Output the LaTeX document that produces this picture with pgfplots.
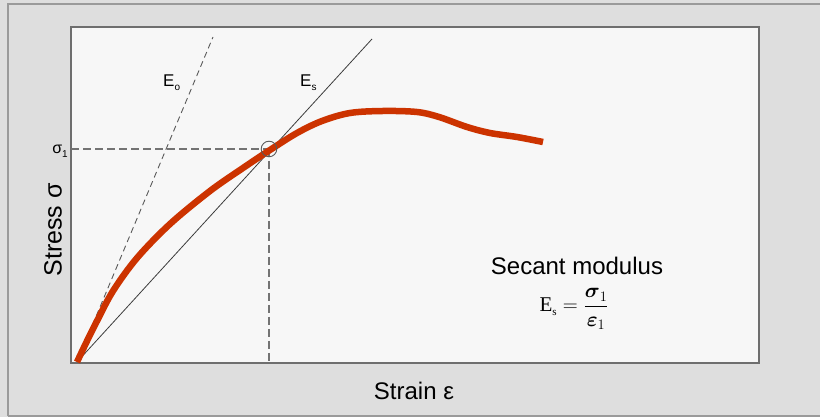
\documentclass[border=0pt]{standalone}
\usepackage{amsmath}
\usepackage[no-math]{fontspec}
\setmainfont{Liberation Sans}
\newfontfamily\timesf{Liberation Serif}
\usepackage{pgfplots}
\pgfplotsset{compat=1.18}
\definecolor{outerbg}{HTML}{DEDEDE}
\definecolor{innerbg}{HTML}{F7F7F7}
\definecolor{boxline}{HTML}{6E6E6E}
\definecolor{frameline}{HTML}{9A9A9A}
\definecolor{curvered}{HTML}{CC3300}
\definecolor{dashgray}{HTML}{5A5A5A}
\definecolor{secgray}{HTML}{3C3C3C}
\begin{document}
\begin{tikzpicture}[x=1pt,y=1pt]
\useasboundingbox (0,0) rectangle (820,417);
\fill[outerbg] (0,0) rectangle (820,417);
\draw[frameline, line width=1.5pt] (8,1) -- (8,413) -- (820,413);
\draw[frameline, line width=1.5pt] (8,1) -- (820,1);
\begin{axis}[
  at={(71pt,54pt)}, anchor=south west,
  scale only axis, width=688pt, height=336pt,
  xmin=-6, xmax=682, ymin=-1, ymax=335,
  axis background/.style={fill=innerbg},
  axis line style={draw=boxline, line width=1.8pt},
  xtick=\empty, ytick=\empty,
  clip=false,
]
% initial tangent modulus
\addplot[dashgray, line width=0.9pt, dash pattern=on 6pt off 4pt] coordinates {(0,0) (136,325)};
% secant modulus
\addplot[secgray, line width=0.8pt] coordinates {(0,0) (295,323)};
% sigma_1 guide lines
\addplot[dashgray!85, line width=1.2pt, dash pattern=on 8pt off 4pt] coordinates {(-6,213) (192,213)};
\addplot[dashgray!85, line width=1.2pt, dash pattern=on 8pt off 4pt] coordinates {(192,213) (192,-1)};
% point
\addplot[only marks, mark=o, mark size=7.8pt, mark options={draw=dashgray, line width=0.9pt}] coordinates {(192,213)};
% stress-strain curve
\addplot[curvered, line width=6.5pt, smooth, tension=0.55] coordinates {
(0,0) (10,21) (20,41) (36,71) (60,104) (93,138) (133,171) (166,194) (193,212)
(220,229) (245,241) (273,249) (306,251) (340,250) (362,245) (390,235) (413,229)
(440,225) (466,220)};
% labels
\node[anchor=base west, inner sep=0pt, font=\fontsize{17}{17}\selectfont] at (axis cs:86,275)
  {E\raisebox{-4pt}{\fontsize{10}{10}\selectfont o}};
\node[anchor=base west, inner sep=0pt, font=\fontsize{17}{17}\selectfont] at (axis cs:223,275)
  {E\raisebox{-4pt}{\fontsize{10}{10}\selectfont s}};
\node[anchor=east, inner sep=0pt, font=\fontsize{16}{16}\selectfont] at (axis cs:-9,211)
  {σ\raisebox{-4pt}{\fontsize{10}{10}\selectfont 1}};
\node[inner sep=0pt, font=\fontsize{24}{24}\selectfont] at (axis cs:337,-29) {Strain ε};
\node[inner sep=0pt, rotate=90, font=\fontsize{25}{25}\selectfont] at (axis cs:-24,132) {Stress σ};
\node[anchor=base, inner sep=0pt, font=\fontsize{24}{24}\selectfont] at (axis cs:500,87) {Secant modulus};
\node[inner sep=0pt, font=\fontsize{21}{21}\selectfont] at (axis cs:497,53)
  {$\mbox{\timesf\fontsize{21}{21}\selectfont E}_{\mbox{\timesf\fontsize{11}{11}\selectfont s}} = \dfrac{\boldsymbol{\sigma}_1}{\boldsymbol{\varepsilon}_1}$};
\end{axis}
\end{tikzpicture}
\end{document}
